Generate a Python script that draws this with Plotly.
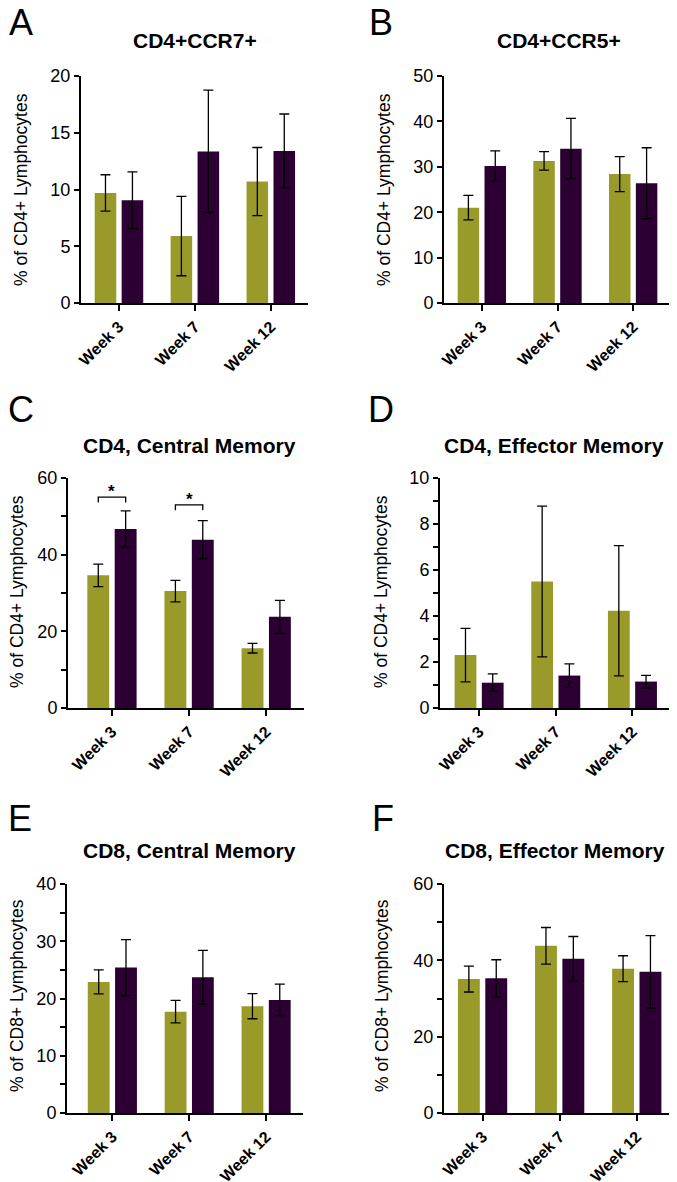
import plotly.graph_objects as go

# ---------------- data ----------------
weeks = ["Week 3", "Week 7", "Week 12"]

a_olive = [9.7, 5.9, 10.7]
a_olive_err = [1.6, 3.5, 3.0]
a_purple = [9.05, 13.35, 13.4]
a_purple_err = [2.5, 5.4, 3.25]

b_olive = [21.0, 31.3, 28.4]
b_olive_err = [2.7, 2.05, 3.85]
b_purple = [30.2, 34.0, 26.4]
b_purple_err = [3.3, 6.65, 7.8]

c_olive = [34.6, 30.5, 15.6]
c_olive_err = [2.95, 2.8, 1.25]
c_purple = [46.7, 43.9, 23.8]
c_purple_err = [4.7, 5.0, 4.3]

d_olive = [2.3, 5.5, 4.23]
d_olive_err = [1.16, 3.28, 2.83]
d_purple = [1.1, 1.41, 1.15]
d_purple_err = [0.38, 0.51, 0.27]

e_olive = [22.9, 17.7, 18.66]
e_olive_err = [2.1, 1.97, 2.2]
e_purple = [25.4, 23.7, 19.75]
e_purple_err = [4.9, 4.7, 2.75]

f_olive = [35.1, 43.8, 37.8]
f_olive_err = [3.4, 4.8, 3.4]
f_purple = [35.3, 40.4, 37.0]
f_purple_err = [4.85, 5.85, 9.5]

# significance (panel C)
c_sig_weeks = ["Week 3", "Week 7"]
c_sig_level = [55.0, 53.0]
c_sig_drop = 1.4
c_sig_label = "*"

panel_letters = ["A", "B", "C", "D", "E", "F"]
panel_titles = ["CD4+CCR7+", "CD4+CCR5+", "CD4, Central Memory",
                "CD4, Effector Memory", "CD8, Central Memory", "CD8, Effector Memory"]
y_titles = ["% of CD4+ Lymphocytes"] * 4 + ["% of CD8+ Lymphocytes"] * 2
y_max = [20, 50, 60, 10, 40, 60]
y_dtick = [5, 10, 20, 2, 10, 20]
y_minor = [None, None, 10, 1, 5, 10]

series = [
    (a_olive, a_olive_err, a_purple, a_purple_err),
    (b_olive, b_olive_err, b_purple, b_purple_err),
    (c_olive, c_olive_err, c_purple, c_purple_err),
    (d_olive, d_olive_err, d_purple, d_purple_err),
    (e_olive, e_olive_err, e_purple, e_purple_err),
    (f_olive, f_olive_err, f_purple, f_purple_err),
]

# ---------------- layout geometry (pixels, in window coordinates) ----------------
PAGE_OFFSET = 8          # default body margin of the html page
W, H = 677 - PAGE_OFFSET, 1182 - PAGE_OFFSET
# (left, right, top, bottom) of each plot area
boxes = [
    (81, 308, 76, 303),
    (444, 671, 76, 303),
    (68, 304, 478, 708),
    (440, 670, 478, 708),
    (67, 303, 884, 1113),
    (444, 673, 884, 1113),
]
x_ranges = [(-0.5, 2.49), (-0.5, 2.5), (-0.57, 2.49), (-0.51, 2.49), (-0.59, 2.48), (-0.5, 2.47)]
title_pos = [(195, 41), (559, 41), (189, 445), (554, 445), (189, 851), (555, 851)]
letter_pos = [(20.5, 22), (381, 22), (21, 410), (381, 410), (20, 818), (383, 818)]
ytitle_pos = [(21, 190), (384, 190), (17, 592), (381, 592), (17, 996), (382, 996)]

OLIVE = "#9A9A2B"
PURPLE = "#2C0033"
FONT = "Liberation Sans, Arial, Helvetica, sans-serif"
BARGAP = 0.29
BARGROUPGAP = 0.2

fig = go.Figure()

def px2x(p):
    return (p - PAGE_OFFSET) / W

def px2y(p):
    return 1 - (p - PAGE_OFFSET) / H

annotations = []
shapes = []

for i, (ol, ole, pu, pue) in enumerate(series):
    ax = "" if i == 0 else str(i + 1)
    xa, ya = "x" + ax, "y" + ax
    err_style = dict(type="data", visible=True, color="black", thickness=1.3, width=5)
    fig.add_trace(go.Bar(x=weeks, y=ol, name="Group 1", marker=dict(color=OLIVE, line=dict(width=0)),
                         error_y=dict(array=ole, **err_style), xaxis=xa, yaxis=ya, showlegend=False))
    fig.add_trace(go.Bar(x=weeks, y=pu, name="Group 2", marker=dict(color=PURPLE, line=dict(width=0)),
                         error_y=dict(array=pue, **err_style), xaxis=xa, yaxis=ya, showlegend=False))
    l, r, t, b = boxes[i]
    xaxis = dict(domain=[px2x(l), px2x(r)], anchor=ya, range=list(x_ranges[i]),
                 showline=True, linecolor="black", linewidth=2, ticks="outside", ticklen=6,
                 tickwidth=2, tickcolor="black", tickangle=-45, automargin=False,
                 tickfont=dict(family=FONT, size=16, color="black", weight="bold"),
                 showgrid=False, zeroline=False, fixedrange=True)
    yaxis = dict(domain=[px2y(b), px2y(t)], anchor=xa, range=[0, y_max[i]], dtick=y_dtick[i],
                 showline=True, linecolor="black", linewidth=2, ticks="outside", ticklen=5,
                 tickwidth=1.5, tickcolor="black", automargin=False,
                 tickfont=dict(family=FONT, size=18, color="black"),
                 showgrid=False, zeroline=False, fixedrange=True)
    if y_minor[i] is not None:
        yaxis["minor"] = dict(dtick=y_minor[i], ticks="outside", ticklen=5, tickwidth=1.5,
                              tickcolor="black", showgrid=False)
    fig.layout["xaxis" + ax] = xaxis
    fig.layout["yaxis" + ax] = yaxis

    # panel title
    tx, ty = title_pos[i]
    annotations.append(dict(text="<b>" + panel_titles[i] + "</b>", x=px2x(tx), y=px2y(ty),
                            xref="paper", yref="paper", xanchor="center", yanchor="middle",
                            showarrow=False, font=dict(family=FONT, size=21, color="black")))
    lx, ly = letter_pos[i]
    annotations.append(dict(text=panel_letters[i], x=px2x(lx), y=px2y(ly),
                            xref="paper", yref="paper", xanchor="center", yanchor="middle",
                            showarrow=False, font=dict(family=FONT, size=36, color="black")))
    yx, yy = ytitle_pos[i]
    annotations.append(dict(text=y_titles[i], x=px2x(yx), y=px2y(yy), textangle=-90,
                            xref="paper", yref="paper", xanchor="center", yanchor="middle",
                            showarrow=False, font=dict(family=FONT, size=17.5, color="black")))

# significance brackets in panel C
half = (1 - BARGAP) / 4
for wk, lvl in zip(c_sig_weeks, c_sig_level):
    idx = weeks.index(wk)
    x0, x1 = idx - half, idx + half
    shapes.append(dict(type="path", xref="x3", yref="y3",
                       path=f"M {x0},{lvl - c_sig_drop} L {x0},{lvl} L {x1},{lvl} L {x1},{lvl - c_sig_drop}",
                       line=dict(color="black", width=1.3)))
    annotations.append(dict(text=c_sig_label, x=idx, y=lvl, xref="x3", yref="y3",
                            xanchor="center", yanchor="bottom", yshift=-6, showarrow=False,
                            font=dict(family=FONT, size=17, color="black", weight="bold")))

fig.update_layout(width=W, height=H, margin=dict(l=0, r=0, t=0, b=0, autoexpand=False),
                  paper_bgcolor="white", plot_bgcolor="white",
                  barmode="group", bargap=BARGAP, bargroupgap=BARGROUPGAP,
                  annotations=annotations, shapes=shapes, showlegend=False,
                  font=dict(family=FONT, color="black"))

fig.write_html("out.html")
